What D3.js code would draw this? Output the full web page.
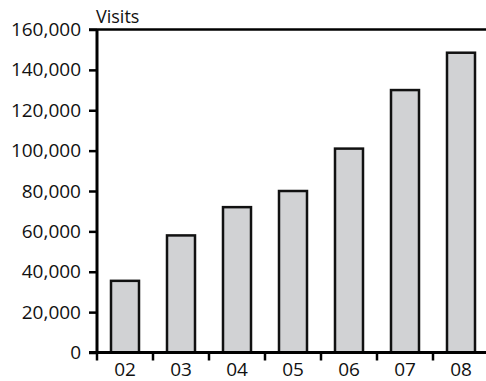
<!DOCTYPE html>
<html><head><meta charset="utf-8">
<script src="https://cdn.jsdelivr.net/npm/d3@7"></script>
<style>body{margin:0;background:#fff}svg{display:block}</style>
</head><body>
<script>
const categories = ["02","03","04","05","06","07","08"];
const visits = [35500, 58000, 72000, 80000, 101000, 130000, 148500];
const yTicks = [0,20000,40000,60000,80000,100000,120000,140000,160000];

(function(){
const W = 486, H = 381;
const mLeft = 97, mTop = 29.5, mBottom = 352.5;
const svg = d3.select("body").append("svg").attr("width", W).attr("height", H);
const font = "'Open Sans', sans-serif";

const x = d3.scaleBand().domain(categories).range([mLeft, mLeft + 56*7]).paddingInner(0.5).paddingOuter(0.25);
const y = d3.scaleLinear().domain([0,160000]).range([mBottom, mTop]);

svg.selectAll("rect.bar").data(visits).join("rect")
  .attr("x", (d,i) => x(categories[i]))
  .attr("width", x.bandwidth())
  .attr("y", d => y(d))
  .attr("height", d => y(0) - y(d))
  .attr("fill", "#d1d2d4").attr("stroke", "#111").attr("stroke-width", 2.5);

const yAxis = d3.axisLeft(y).tickValues(yTicks).tickSize(8).tickPadding(8).tickFormat(d3.format(","));
const gy = svg.append("g").attr("transform", `translate(${mLeft},0)`).call(yAxis);
gy.select(".domain").remove();
gy.selectAll("line").attr("stroke", "#000").attr("stroke-width", 2.5);
gy.selectAll("text").attr("font-family", font).attr("font-size", 19).attr("font-weight", 400)
  .attr("fill", "#111");

const xAxis = d3.axisBottom(x).tickSize(0).tickPadding(10);
const gx = svg.append("g").attr("transform", `translate(0,${mBottom})`).call(xAxis);
gx.select(".domain").remove();
gx.selectAll("text").attr("font-family", font).attr("font-size", 19).attr("font-weight", 400)
  .attr("fill", "#111");

const step = x.step();
svg.selectAll("line.xb").data(d3.range(categories.length)).join("line")
  .attr("x1", i => x(categories[i]) - step*0.25).attr("x2", i => x(categories[i]) - step*0.25)
  .attr("y1", mBottom).attr("y2", mBottom + 8)
  .attr("stroke", "#000").attr("stroke-width", 2.5);

svg.append("line").attr("x1", mLeft).attr("x2", mLeft).attr("y1", mTop).attr("y2", mBottom)
  .attr("stroke", "#000").attr("stroke-width", 3);
svg.append("line").attr("x1", mLeft - 8).attr("x2", W).attr("y1", mBottom).attr("y2", mBottom)
  .attr("stroke", "#000").attr("stroke-width", 3);
svg.append("line").attr("x1", mLeft - 8).attr("x2", W).attr("y1", mTop).attr("y2", mTop)
  .attr("stroke", "#000").attr("stroke-width", 2.5);

svg.append("text").attr("x", mLeft - 1).attr("y", 23).text("Visits")
  .attr("font-family", font).attr("font-size", 18).attr("font-weight", 400)
  .attr("fill", "#111");
})();
</script>
</body></html>
